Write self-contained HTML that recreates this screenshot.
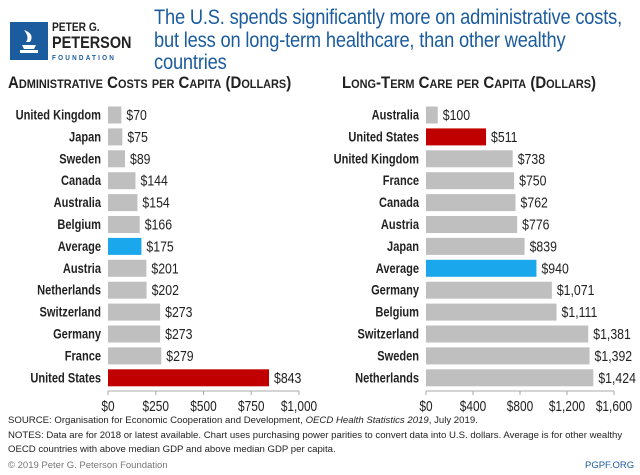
<!DOCTYPE html>
<html><head><meta charset="utf-8">
<style>
body{margin:0;width:640px;height:475px;background:#fff;font-family:"Liberation Sans",sans-serif;position:relative;overflow:hidden}
.abs{position:absolute}
.title{left:154px;top:7px;color:#1b5c9e;font-size:21px;line-height:22.5px;letter-spacing:-0.2px;transform:scaleX(0.87);transform-origin:left top;white-space:nowrap}
.hd{top:74px;font-weight:bold;font-size:16.5px;color:#222;font-variant:small-caps;transform:scaleX(0.91);transform-origin:left top;white-space:nowrap}
.foot{left:8px;font-size:9.6px;color:#222}
</style></head><body>
<div class="abs" style="left:10px;top:22px;width:38px;height:38px;background:#1b5c9e">
<svg width="38" height="38"><path d="M10 28h18v3H10zM12 23h14l-2 4H14zM14 8c6 2 10 6 6 12h-4c3-4 1-8-2-12z" fill="#fff"/></svg></div>
<div class="abs" style="left:52px;top:20px;color:#222;font-weight:bold;line-height:14px;transform:scaleX(0.85);transform-origin:left top">
<div style="font-size:12px">PETER G.</div><div style="font-size:17px;line-height:17px">PETERSON</div>
<div style="font-size:7.5px;letter-spacing:2.6px;color:#1b5c9e">FOUNDATION</div></div>
<div class="abs title">The U.S. spends significantly more on administrative costs,<br>but less on long-term healthcare, than other wealthy<br>countries</div>
<div class="abs hd" style="left:8px">Administrative Costs per Capita (Dollars)</div>
<div class="abs hd" style="left:342px">Long-Term Care per Capita (Dollars)</div>
<svg class="abs" style="left:0;top:0" width="640" height="475" id="chart"></svg>
<div class="abs foot" style="top:415px">SOURCE: Organisation for Economic Cooperation and Development, <i>OECD Health Statistics 2019</i>, July 2019.</div>
<div class="abs foot" style="top:429px;line-height:14px;width:630px">NOTES: Data are for 2018 or latest available. Chart uses purchasing power parities to convert data into U.S. dollars. Average is for other wealthy OECD countries with above median GDP and above median GDP per capita.</div>
<div class="abs" style="left:8px;top:460px;font-size:9.5px;color:#777">© 2019 Peter G. Peterson Foundation</div>
<div class="abs" style="left:585px;top:460px;font-size:9.5px;color:#1b5c9e">PGPF.ORG</div>
<script>
const adminCats=["United Kingdom","Japan","Sweden","Canada","Australia","Belgium","Average","Austria","Netherlands","Switzerland","Germany","France","United States"];
const adminVals=[70,75,89,144,154,166,175,201,202,273,273,279,843];
const adminTicks=[0,250,500,750,1000];
const ltcCats=["Australia","United States","United Kingdom","France","Canada","Austria","Japan","Average","Germany","Belgium","Switzerland","Sweden","Netherlands"];
const ltcVals=[100,511,738,750,762,776,839,940,1071,1111,1381,1392,1424];
const ltcTicks=[0,400,800,1200,1600];
const svg=document.getElementById('chart');
const NS='http://www.w3.org/2000/svg';
function mk(t,a){const e=document.createElementNS(NS,t);for(const k in a)e.setAttribute(k,a[k]);svg.appendChild(e);return e;}
function fmt(v){return '$'+v.toLocaleString('en-US');}
function txt(x,y,anchor,size,bold){
  return mk('text',{x:0,y:0,transform:`translate(${x},${y}) scale(0.82,1)`,'text-anchor':anchor,'font-size':size,'font-weight':bold?'bold':'normal',fill:'#222'});
}
function draw(cats,vals,ticks,x0,x1,max,pfx){
  const sx=v=>x0+v/max*(x1-x0);
  const y0=115,step=21.9,h=17;
  cats.forEach((c,i)=>{
    const cy=y0+i*step;
    const col=c==="United States"?"#c00000":c==="Average"?"#1aa7ec":"#bfbfbf";
    const r=mk('rect',{x:x0,y:cy-h/2,width:sx(vals[i])-x0,height:h,fill:col});
    
    
    const l=txt(x0-7,cy+4.5,'end',13.5,true);
    l.textContent=c;
    
    
    const v=txt(sx(vals[i])+5,cy+5,'start',15,false);
    v.textContent=fmt(vals[i]);
    
    
  });
  const ax=mk('line',{x1:x0,x2:x1,y1:391,y2:391,stroke:'#aaa','stroke-width':1});
  
  
  ticks.forEach(t=>{
    const tk=mk('line',{x1:sx(t),x2:sx(t),y1:391,y2:395,stroke:'#aaa'});
    
    
    const tl=txt(sx(t),411,'middle',14.5,false);
    tl.textContent=fmt(t);
    
    
  });
}
draw(adminCats,adminVals,adminTicks,108,299,1000,'admin');
draw(ltcCats,ltcVals,ltcTicks,426,614,1600,'ltc');
</script>
</body></html>
